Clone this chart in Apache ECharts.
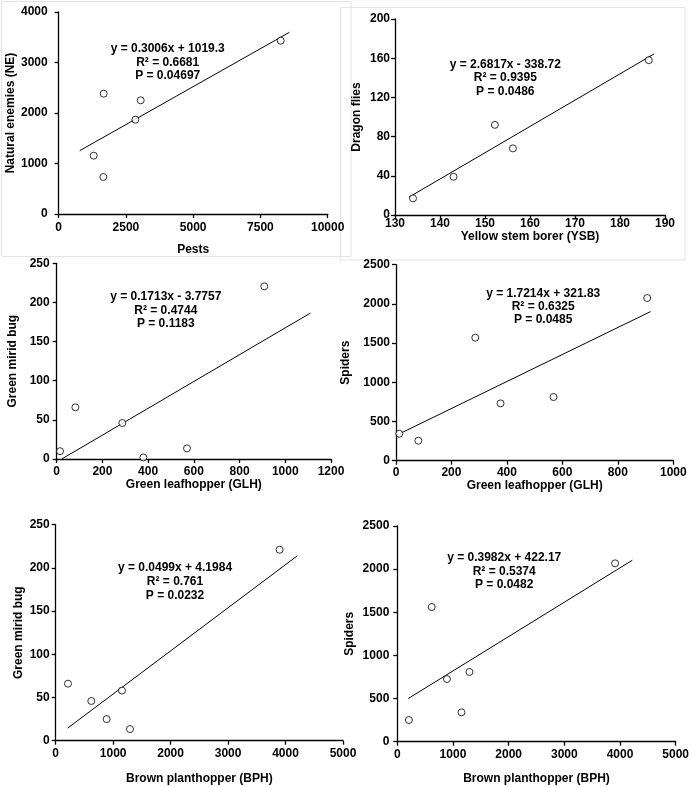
<!DOCTYPE html>
<html>
<head>
<meta charset="utf-8">
<script src="https://cdn.jsdelivr.net/npm/echarts@6/dist/echarts.min.js"></script>
<style>
html,body{margin:0;padding:0;background:#fff;}
#c{width:692px;height:787px;}
</style>
</head>
<body>
<div id="c"></div>
<script>
// ---- data ----
var pestsVsNE = [[1301,1155],[1660,733],[1673,2383],[2850,1868],[3048,2251],[8253,3432]];
var ysbVsDragon = [[134,17],[143,39],[152.2,92],[156.2,68],[186.4,158]];
var glhVsMirid = [[14.6,10],[81.7,66],[287,46],[379,2],[570,13.6],[908,220.6]];
var glhVsSpiders = [[12,344],[80.5,255],[286,1569],[377,731],[568,812],[906,2075]];
var bphVsMirid = [[214,66],[620,46],[887,25],[1154,58],[1293,13.5],[3896,221]];
var bphVsSpiders = [[208,251],[618,1561],[892,726],[1153,340],[1296,808],[3912,2067]];

// trend line end points
var trendNE = [[781,1254],[8575,3597]];
var trendDragon = [[133.1,18.2],[187.6,164.4]];
var trendMiridGLH = [[22,0],[1110,186.4]];
var trendSpidersGLH = [[12,342],[918,1902]];
var trendMiridBPH = [[209,14.6],[4203,213.9]];
var trendSpidersBPH = [[196,500],[4221,2103]];

var xTitles = ['Pests','Yellow stem borer (YSB)','Green leafhopper (GLH)','Green leafhopper (GLH)','Brown planthopper (BPH)','Brown planthopper (BPH)'];
var yTitles = ['Natural enemies (NE)','Dragon flies','Green mirid bug','Spiders','Green mirid bug','Spiders'];
var eqTexts = [
  ['y = 0.3006x + 1019.3','R\u00B2 = 0.6681','P = 0.04697'],
  ['y = 2.6817x - 338.72','R\u00B2 = 0.9395','P = 0.0486'],
  ['y = 0.1713x - 3.7757','R\u00B2 = 0.4744','P = 0.1183'],
  ['y = 1.7214x + 321.83','R\u00B2 = 0.6325','P = 0.0485'],
  ['y = 0.0499x + 4.1984','R\u00B2 = 0.761','P = 0.0232'],
  ['y = 0.3982x + 422.17','R\u00B2 = 0.5374','P = 0.0482']
];
// axis ranges: [min, max, interval]
var xRanges = [[0,10000,2500],[130,190,10],[0,1200,200],[0,1000,200],[0,5000,1000],[0,5000,1000]];
var yRanges = [[0,4000,1000],[0,200,40],[0,250,50],[0,2500,500],[0,250,50],[0,2500,500]];

var pointSets = [pestsVsNE, ysbVsDragon, glhVsMirid, glhVsSpiders, bphVsMirid, bphVsSpiders];
var trendSets = [trendNE, trendDragon, trendMiridGLH, trendSpidersGLH, trendMiridBPH, trendSpidersBPH];

// ---- layout ----
var grids = [
  {left:58.7, top:12,    width:269,   height:202},
  {left:395,  top:19,    width:270,   height:196},
  {left:56.7, top:263.3, width:274.3, height:195.7},
  {left:396,  top:264.7, width:277.3, height:196},
  {left:55.7, top:524.7, width:287.3, height:216},
  {left:397.3,top:526,   width:280.4, height:215.7}
];
var xNameGap = [30,16,11,12,32,31];
var yNameGap = [35,32,38,44,31,42];
var xLabelMargin = [8,3,7,6,7,7];
var yLabelMargin = [11,5,7,6,6,8];
var eqPos = [
  [167.7,48.7],[505.3,64.3],[165.8,296.7],[543.2,293.3],[175,567.3],[504.2,558]
];
var lineGap = [13.7,13.5,13.5,13.3,14.2,13.5];

var FONT = 'Liberation Sans, Arial, sans-serif';
var axisLine = {show:true, onZero:false, lineStyle:{color:'#000', width:1.3}};
var axisTick = {show:true, inside:false, length:4, lineStyle:{color:'#000', width:1.3}};
function plain(v){ return String(v); }

var xAxes = [], yAxes = [], series = [], graphics = [];
for (var i = 0; i < 6; i++) {
  xAxes.push({
    type:'value', gridIndex:i, min:xRanges[i][0], max:xRanges[i][1], interval:xRanges[i][2],
    name:xTitles[i], nameLocation:'middle', nameGap:xNameGap[i],
    nameTextStyle:{color:'#000', fontFamily:FONT, fontWeight:'bold', fontSize:12},
    axisLine:axisLine, axisTick:axisTick, splitLine:{show:false},
    axisLabel:{color:'#000', fontFamily:FONT, fontWeight:'bold', fontSize:12, margin:xLabelMargin[i], formatter:plain}
  });
  yAxes.push({
    type:'value', gridIndex:i, min:yRanges[i][0], max:yRanges[i][1], interval:yRanges[i][2],
    name:yTitles[i], nameLocation:'middle', nameGap:yNameGap[i],
    nameTextStyle:{color:'#000', fontFamily:FONT, fontWeight:'bold', fontSize:12},
    axisLine:axisLine, axisTick:axisTick, splitLine:{show:false},
    axisLabel:{color:'#000', fontFamily:FONT, fontWeight:'bold', fontSize:12, margin:yLabelMargin[i], formatter:plain}
  });
  series.push({
    type:'line', xAxisIndex:i, yAxisIndex:i, data:trendSets[i], symbol:'none',
    lineStyle:{color:'#000', width:1}, silent:true, animation:false, z:2
  });
  series.push({
    type:'scatter', xAxisIndex:i, yAxisIndex:i, data:pointSets[i], symbol:'circle', symbolSize:7,
    itemStyle:{color:'#fff', borderColor:'#000', borderWidth:1}, animation:false, z:3
  });
  for (var k = 0; k < 3; k++) {
    graphics.push({
      type:'text', x:eqPos[i][0], y:eqPos[i][1] + k*lineGap[i], z:10,
      style:{text:eqTexts[i][k], fill:'#000', font:'bold 12px ' + FONT, textAlign:'center', textVerticalAlign:'middle'}
    });
  }
}
// faint frames around the top two panels
graphics.push({type:'rect', shape:{x:1.5, y:1.5, width:349.5, height:255}, style:{fill:'none', stroke:'#e4e4e4', lineWidth:1}, z:0});
graphics.push({type:'rect', shape:{x:340.5, y:7.5, width:344.5, height:252.5}, style:{fill:'none', stroke:'#e4e4e4', lineWidth:1}, z:0});

var chart = echarts.init(document.getElementById('c'), null, {renderer:'canvas'});
chart.setOption({
  backgroundColor:'#fff',
  animation:false,
  grid:grids,
  xAxis:xAxes,
  yAxis:yAxes,
  series:series,
  graphic:graphics
});
</script>
</body>
</html>
